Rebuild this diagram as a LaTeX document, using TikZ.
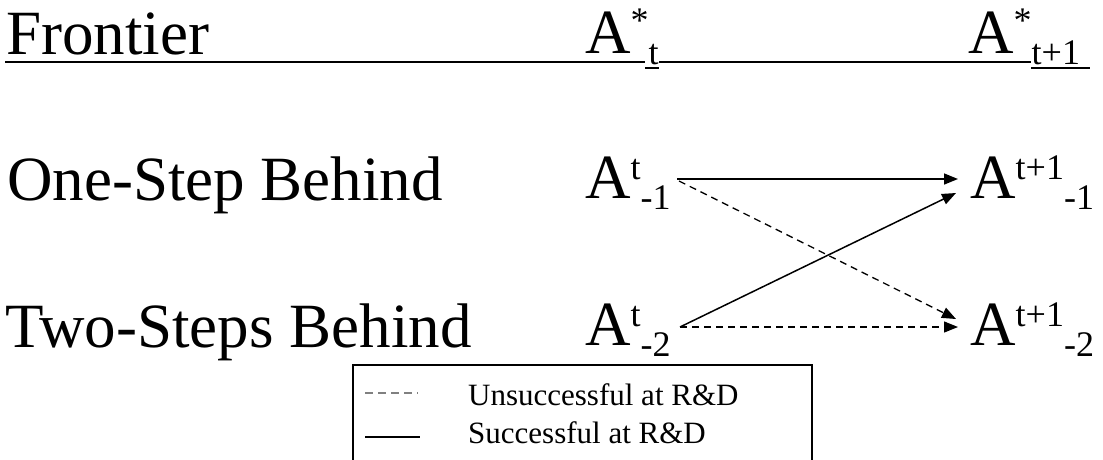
\documentclass[tikz,border=0pt]{standalone}
\usepackage{fontspec}
\setmainfont{Liberation Serif}
\usetikzlibrary{arrows.meta}
\newcommand\Alab[3][19pt]{A\raisebox{#1}{\fontsize{36}{36}\selectfont #2}\raisebox{-11pt}{\fontsize{36}{36}\selectfont #3}}
\tikzset{
  big/.style={anchor=base west, inner sep=0pt, font=\fontsize{63}{63}\selectfont},
  small/.style={anchor=base west, inner sep=0pt, font=\fontsize{31}{31}\selectfont},
  succ/.style={line width=1.5pt, -{Triangle[length=14pt,width=11pt]}},
  fail/.style={line width=1.3pt, dash pattern=on 7pt off 5pt, -{Triangle[length=14pt,width=11pt]}},
  uline/.style={line width=2.8pt},
  subline/.style={line width=2.2pt}
}
\begin{document}
\begin{tikzpicture}[x=1pt,y=-1pt]
\useasboundingbox (0,0) rectangle (1103,459);
\clip (0,0) rectangle (1103,459);
% headings
\node[big] (front) at (6,54) {Frontier};
\node[big] (ht) at (585,53) {\Alab[21pt]{*}{t}};
\node[big] (ht1) at (968,53) {\Alab[21pt]{*}{t+1}};
\draw[uline] (5,62) -- (645,62);
\draw[subline] (645,68) -- (659,68);
\draw[uline] (659,62) -- (1031,62);
\draw[subline] (1031,68) -- (1090,68);
% rows
\node[big] (one) at (7,200) {One-Step Behind};
\node[big] (two) at (5,347) {Two-Steps Behind};
\node[big] (a1) at (585,198) {\Alab{t}{-1}};
\node[big] (a2) at (585,345) {\Alab{t}{-2}};
\node[big] (b1) at (970,198) {\Alab{t+1}{-1}};
\node[big] (b2) at (970,345) {\Alab{t+1}{-2}};
% arrow ends
\coordinate (a1o) at (677,179);
\coordinate (a1d) at (679,181);
\coordinate (a2o) at (680,327);
\coordinate (b1i) at (958,179);
\coordinate (b1s) at (956,193);
\coordinate (b2d) at (956,319);
\coordinate (b2i) at (958,327);
\draw[succ] (a1o) -- (b1i);
\draw[fail] (a1d) -- (b2d);
\draw[succ] (a2o) -- (b1s);
\draw[fail] (a2o) -- (b2i);
% legend
\draw[line width=1.2pt] (353,365) rectangle (812,475);
\coordinate (l1a) at (365,393);
\coordinate (l1b) at (418,393);
\coordinate (l2a) at (365,437);
\coordinate (l2b) at (420,437);
\draw[line width=1.8pt, gray, dash pattern=on 8pt off 5pt] (l1a) -- (l1b);
\draw[line width=1.8pt] (l2a) -- (l2b);
\node[small] (lu) at (468,405) {Unsuccessful at R\&D};
\node[small] (ls) at (468,443) {Successful at R\&D};
\end{tikzpicture}
\end{document}
